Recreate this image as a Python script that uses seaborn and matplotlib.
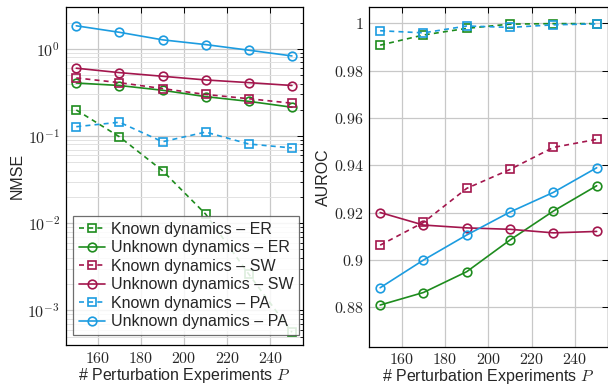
import numpy as np
import pandas as pd
import matplotlib
matplotlib.use("Agg")
import matplotlib.pyplot as plt
import matplotlib.ticker as mticker
import seaborn as sns

# ---------------- data ----------------
P = [150, 170, 190, 210, 230, 250]

nmse_known_er = [0.199, 0.098, 0.040, 0.0127, 0.0026, 0.00056]
nmse_unknown_er = [0.406, 0.38, 0.335, 0.283, 0.25, 0.214]
nmse_known_sw = [0.464, 0.41, 0.35, 0.30, 0.268, 0.238]
nmse_unknown_sw = [0.60, 0.534, 0.485, 0.44, 0.41, 0.38]
nmse_known_pa = [0.128, 0.144, 0.086, 0.111, 0.081, 0.073]
nmse_unknown_pa = [1.84, 1.55, 1.27, 1.12, 0.966, 0.83]

auroc_known_er = [0.9908, 0.9951, 0.9979, 0.9997, 0.9999, 0.9999]
auroc_unknown_er = [0.881, 0.8863, 0.8951, 0.9085, 0.9207, 0.9314]
auroc_known_sw = [0.9063, 0.9159, 0.9303, 0.9383, 0.9476, 0.9510]
auroc_unknown_sw = [0.9201, 0.9148, 0.9136, 0.9130, 0.9115, 0.9121]
auroc_known_pa = [0.9969, 0.9960, 0.9989, 0.9983, 0.9994, 0.9998]
auroc_unknown_pa = [0.8883, 0.9000, 0.9106, 0.9203, 0.9286, 0.9390]

labels = ["Known dynamics – ER", "Unknown dynamics – ER",
          "Known dynamics – SW", "Unknown dynamics – SW",
          "Known dynamics – PA", "Unknown dynamics – PA"]

x_ticks = [160, 180, 200, 220, 240]
auroc_ticks = [0.88, 0.9, 0.92, 0.94, 0.96, 0.98, 1.0]
auroc_ticklabels = ["0.88", "0.9", "0.92", "0.94", "0.96", "0.98", "1"]

# ---------------- style ----------------
sns.set_style("whitegrid")
plt.rcParams["font.family"] = ["Liberation Sans", "DejaVu Sans"]
plt.rcParams["mathtext.fontset"] = "cm"

GREEN = "#1e8c1e"
RED = "#a3164d"
BLUE = "#1c9ce0"
colors = [GREEN, GREEN, RED, RED, BLUE, BLUE]
markers = ["s", "o", "s", "o", "s", "o"]
styles = ["--", "-", "--", "-", "--", "-"]

fig = plt.figure(figsize=(6.08, 3.85), dpi=100)
W, H = 608, 385
ax1 = fig.add_axes([65.5 / W, (H - 345) / H, (302.7 - 65.5) / W, (345 - 7.3) / H])
ax2 = fig.add_axes([369.3 / W, (H - 346.7) / H, (607.5 - 369.3) / W, (346.7 - 7.3) / H])

nmse = [nmse_known_er, nmse_unknown_er, nmse_known_sw, nmse_unknown_sw,
        nmse_known_pa, nmse_unknown_pa]
auroc = [auroc_known_er, auroc_unknown_er, auroc_known_sw, auroc_unknown_sw,
         auroc_known_pa, auroc_unknown_pa]

for ax, series in [(ax1, nmse), (ax2, auroc)]:
    for vals, lab, c, m, ls in zip(series, labels, colors, markers, styles):
        df = pd.DataFrame({"P": P, "v": vals})
        sns.lineplot(data=df, x="P", y="v", ax=ax, color=c, marker=m,
                     linewidth=1.2, markersize=6.2,
                     markerfacecolor="none", markeredgecolor=c,
                     markeredgewidth=1.2, label=lab, legend=False)
        ln = ax.lines[-1]
        ln.set_linestyle(ls)
        if ls == "--":
            ln.set_dashes([3, 2.5])

for ax in (ax1, ax2):
    ax.set_xlim(145, 255)
    ax.set_xticks(x_ticks)
    ax.xaxis.set_major_formatter(mticker.FuncFormatter(lambda v, p: r"$%d$" % v))
    ax.set_xlabel(r"# Perturbation Experiments $P$", fontsize=11.5, labelpad=0)
    ax.grid(True, which="major", color="#c8c8c8", linewidth=0.9)
    for s in ax.spines.values():
        s.set_color("black")
        s.set_linewidth(0.9)
    ax.tick_params(axis="both", which="major", direction="in", length=4,
                   top=True, right=True, labelsize=11.5, color="black", width=0.7,
                   pad=4)
    ax.set_axisbelow(True)

# left axis: log
ax1.set_yscale("log")
ax1.set_ylim(4.0e-4, 3.0)
ax1.yaxis.set_major_locator(mticker.LogLocator(base=10, numticks=10))
ax1.yaxis.set_minor_locator(mticker.LogLocator(base=10, subs=np.arange(2, 10), numticks=20))
ax1.yaxis.set_major_formatter(mticker.FuncFormatter(lambda v, p: r"$10^{%d}$" % int(round(np.log10(v)))))
ax1.yaxis.set_minor_formatter(mticker.NullFormatter())
ax1.grid(True, which="minor", axis="y", color="#e2e2e2", linewidth=0.7)
ax1.tick_params(axis="y", which="minor", direction="in", length=2.5, right=True,
                color="black", width=0.6)
ax1.set_ylabel("NMSE", fontsize=11.5, labelpad=2)

# right axis
ax2.set_ylim(0.8634, 1.0068)
ax2.set_yticks(auroc_ticks)
ax2.set_yticklabels([r"$%s$" % t for t in auroc_ticklabels])
ax2.set_ylabel("AUROC", fontsize=11.5, labelpad=2)

leg = ax1.legend(loc="lower left", bbox_to_anchor=(0.02, 0.02), fontsize=11.5,
                 frameon=True, fancybox=False, edgecolor="#555555",
                 framealpha=0.85, handlelength=1.6, handletextpad=0.4,
                 borderpad=0.35, labelspacing=0.22, borderaxespad=0.2)
leg.get_frame().set_linewidth(0.9)

fig.savefig("out.png", dpi=100)
